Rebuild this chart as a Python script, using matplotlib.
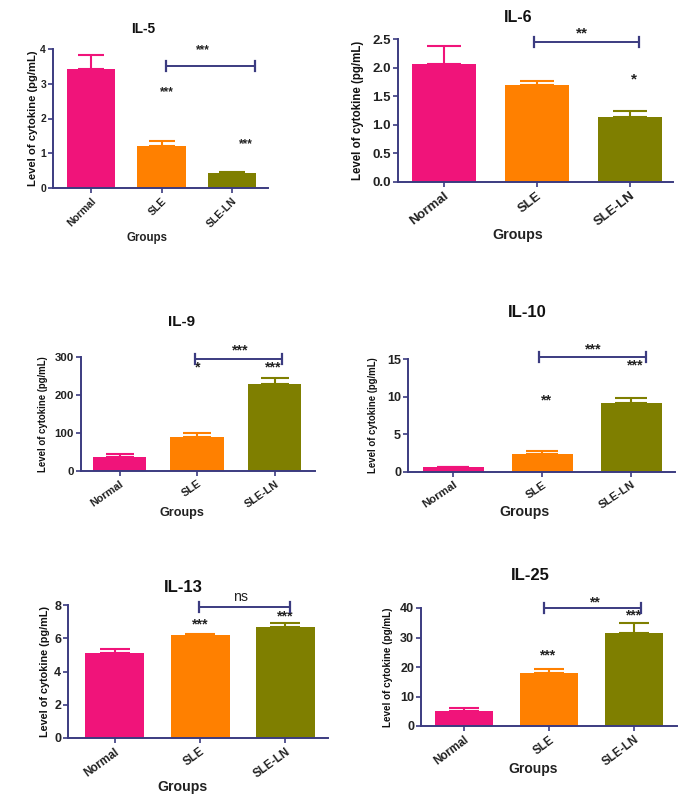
import matplotlib
matplotlib.use("Agg")
import matplotlib.pyplot as plt

# ---------------- data ----------------
groups = ["Normal", "SLE", "SLE-LN"]
titles = ["IL-5", "IL-6", "IL-9", "IL-10", "IL-13", "IL-25"]

il5_mean = [3.42, 1.22, 0.42]
il5_top = [3.82, 1.34, 0.45]
il6_mean = [2.07, 1.69, 1.13]
il6_top = [2.37, 1.77, 1.25]
il9_mean = [37.5, 90, 230]
il9_top = [45, 100, 246]
il10_mean = [0.67, 2.45, 9.1]
il10_top = [0.72, 2.75, 9.77]
il13_mean = [5.13, 6.2, 6.7]
il13_top = [5.35, 6.28, 6.94]
il25_mean = [5.2, 18.0, 31.6]
il25_top = [6.2, 19.4, 34.9]

il5_ticks = [0, 1, 2, 3, 4]
il6_ticks = [0.0, 0.5, 1.0, 1.5, 2.0, 2.5]
il9_ticks = [0, 100, 200, 300]
il10_ticks = [0, 5, 10, 15]
il13_ticks = [0, 2, 4, 6, 8]
il25_ticks = [0, 10, 20, 30, 40]

# significance: bracket label, per-bar labels (Normal, SLE, SLE-LN)
il5_sig = ["***", ["", "***", "***"]]
il6_sig = ["**", ["", "", "*"]]
il9_sig = ["***", ["", "*", "***"]]
il10_sig = ["***", ["", "**", "***"]]
il13_sig = ["ns", ["", "***", "***"]]
il25_sig = ["**", ["", "***", "***"]]

means = [il5_mean, il6_mean, il9_mean, il10_mean, il13_mean, il25_mean]
tops = [il5_top, il6_top, il9_top, il10_top, il13_top, il25_top]
ticks = [il5_ticks, il6_ticks, il9_ticks, il10_ticks, il13_ticks, il25_ticks]
sigs = [il5_sig, il6_sig, il9_sig, il10_sig, il13_sig, il25_sig]
tickfmt = ["{:.0f}", "{:.1f}", "{:.0f}", "{:.0f}", "{:.0f}", "{:.0f}"]

# ---------------- layout (pixels) ----------------
W, H = 686, 802
colors = ["#F0147A", "#FF8000", "#7F7F00"]
axcol = "#3B3B80"

layout = [
    dict(box=(53, 49, 268, 188), xlim=(-0.54, 2.51), ylx=33, yls=8.1, tt=(143, 29), tts=9.8, gr=(147, 238), grs=8.3,
         tks=7.5, ytks=7.5, rot=45, sts=8.6, br=(1.07, 2.32, 3.5), brl=(1.58, 3.97), bl=[None, (1.08, 2.76), (2.2, 1.27)]),
    dict(box=(398, 39, 673, 182), xlim=(-0.49, 2.46), ylx=358, yls=8.3, tt=(518, 18), tts=11.5, gr=(518, 235), grs=10.3,
         tks=9.5, ytks=9.5, rot=38, sts=11.0, br=(0.97, 2.10, 2.44), brl=(1.48, 2.6), bl=[None, None, (2.04, 1.8)]),
    dict(box=(81, 357, 315, 471), xlim=(-0.5, 2.52), ylx=43, yls=6.9, tt=(182, 322), tts=11.0, gr=(182, 513), grs=9.1,
         tks=7.8, ytks=8.2, rot=35, sts=10.2, br=(0.97, 2.10, 296), brl=(1.56, 317), bl=[None, (1.0, 273), (1.98, 273)]),
    dict(box=(408, 359, 675, 472), xlim=(-0.51, 2.49), ylx=373, yls=6.9, tt=(527, 313), tts=12.0, gr=(525, 512), grs=10.2,
         tks=8.2, ytks=9.0, rot=34, sts=10.2, br=(0.96, 2.16, 15.2), brl=(1.57, 16.3), bl=[None, (1.04, 9.5), (2.04, 14.2)]),
    dict(box=(68, 605, 328, 738), xlim=(-0.55, 2.5), ylx=45, yls=7.8, tt=(183, 587), tts=12.0, gr=(183, 787), grs=10.2,
         tks=8.4, ytks=9.0, rot=36, sts=10.2, br=(0.99, 2.05, 7.85), brl=(1.47, 8.5), bl=[None, (1.0, 6.8), (2.0, 7.3)]),
    dict(box=(421, 608, 677, 726), xlim=(-0.51, 2.51), ylx=388, yls=7.1, tt=(530, 575), tts=12.0, gr=(533, 769), grs=10.0,
         tks=8.4, ytks=9.0, rot=37, sts=10.0, br=(0.94, 2.08, 40.1), brl=(1.53, 42), bl=[None, (0.98, 24), (1.99, 37.5)]),
]

plt.rcParams["font.family"] = ["Liberation Sans", "DejaVu Sans"]
plt.rcParams["font.weight"] = "bold"

fig = plt.figure(figsize=(W / 100, H / 100), dpi=100)
fig.patch.set_facecolor("white")

x = list(range(len(groups)))
for i in range(6):
    L = layout[i]
    x0, yt, x1, yb = L["box"]
    ax = fig.add_axes([x0 / W, 1 - yb / H, (x1 - x0) / W, (yb - yt) / H])
    m = means[i]
    up = [t - v for t, v in zip(tops[i], m)]
    ax.bar(x, m, width=0.69, color=colors, zorder=2)
    spacing_px = (x1 - x0) / (L["xlim"][1] - L["xlim"][0])
    cap = 0.26 * 0.69 * spacing_px / 1.389
    for j in x:
        ax.errorbar([j], [m[j]], yerr=[[0], [up[j]]], fmt="none", ecolor=colors[j],
                    elinewidth=1.5, capsize=cap, capthick=1.5, zorder=3)
    ax.set_xlim(*L["xlim"])
    ax.set_ylim(ticks[i][0], ticks[i][-1])
    ax.set_yticks(ticks[i])
    ax.set_yticklabels([tickfmt[i].format(t) for t in ticks[i]], fontsize=L["ytks"], fontweight="bold")
    ax.set_xticks(x)
    ax.set_xticklabels(groups, rotation=L["rot"], ha="right", rotation_mode="anchor",
                       fontsize=L["tks"], fontweight="bold")
    for s in ["top", "right"]:
        ax.spines[s].set_visible(False)
    for s in ["left", "bottom"]:
        ax.spines[s].set_color(axcol)
        ax.spines[s].set_linewidth(1.4)
    ax.tick_params(axis="both", colors=axcol, width=1.2, length=3.5, direction="out", labelcolor="#222222")
    ax.tick_params(axis="y", pad=1.5)
    ax.tick_params(axis="x", pad=2)

    # bracket
    bx1, bx2, by = L["br"]
    yr = ticks[i][-1] - ticks[i][0]
    d = 5.0 * yr / (yb - yt)
    ax.plot([bx1, bx2], [by, by], color=axcol, lw=1.4, clip_on=False, zorder=4)
    ax.plot([bx1, bx1], [by - d, by + d], color=axcol, lw=1.6, clip_on=False, zorder=4)
    ax.plot([bx2, bx2], [by - d, by + d], color=axcol, lw=1.6, clip_on=False, zorder=4)
    lx, ly = L["brl"]
    blab = sigs[i][0]
    ax.text(lx, ly, blab, ha="center", va="center", fontsize=L["sts"],
            fontweight="normal" if blab == "ns" else "bold", color="#222222", clip_on=False)
    for j, pos in enumerate(L["bl"]):
        if pos is not None and sigs[i][1][j]:
            ax.text(pos[0], pos[1], sigs[i][1][j], ha="center", va="center",
                    fontsize=L["sts"], fontweight="bold", color="#222222", clip_on=False)

    # texts
    fig.text(L["tt"][0] / W, 1 - L["tt"][1] / H, titles[i], ha="center", va="center",
             fontsize=L["tts"], fontweight="bold", color="#111111")
    fig.text(L["ylx"] / W, 1 - (yt + yb) / 2 / H, "Level of cytokine (pg/mL)", rotation=90,
             ha="center", va="center", fontsize=L["yls"], fontweight="bold", color="#111111")
    fig.text(L["gr"][0] / W, 1 - L["gr"][1] / H, "Groups", ha="center", va="center",
             fontsize=L["grs"], fontweight="bold", color="#222222")

fig.savefig("out.png", dpi=100, facecolor="white")
